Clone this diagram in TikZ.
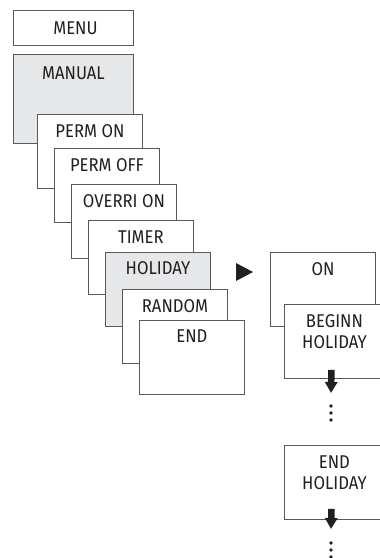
\documentclass[tikz,border=0pt]{standalone}
\usepackage{fontspec}
\setmainfont[FakeStretch=0.9]{Fira Sans}
\usetikzlibrary{arrows.meta}
\definecolor{boxline}{HTML}{58595B}
\definecolor{boxgray}{HTML}{E6E7E8}
\definecolor{ink}{HTML}{231F20}
\tikzset{font=\fontsize{18.5}{21}\selectfont}
\tikzstyle{menubox}=[rectangle,draw=boxline,line width=0.9pt,fill=white,inner sep=0pt,minimum width=105pt,minimum height=74pt,anchor=north west]
\tikzstyle{selbox}=[menubox,fill=boxgray]
\tikzstyle{txt}=[inner sep=0pt,text=ink,align=center]
\tikzstyle{dot}=[circle,fill=ink,inner sep=1.3pt]
\tikzstyle{down}=[-{Triangle[width=12pt,length=11pt]},line width=6.5pt,draw=ink]

\begin{document}
\begin{tikzpicture}[x=1pt,y=-1pt]
	\useasboundingbox (0,0) rectangle (380,558);
	\clip (0,0) rectangle (380,558);
	% menu column
	\node [style=menubox, minimum width=120pt, minimum height=35pt] (menu) at (13,10) {};
	\node [style=txt] (menut) at ([xshift=2pt]menu.center) {MENU};
	\node [style=selbox, minimum width=120pt, minimum height=89pt] (manual) at (13,54) {};
	\node [style=txt] (manualt) at ([yshift=-19pt]manual.north) {MANUAL};
	% cascade of sub menus
	\node [style=menubox] (permon) at (37,114) {};
	\node [style=txt] (permont) at ([yshift=-17pt]permon.north) {PERM ON};
	\node [style=menubox] (permoff) at (54,148) {};
	\node [style=txt] (permofft) at ([yshift=-17pt]permoff.north) {PERM OFF};
	\node [style=menubox] (overri) at (71,184) {};
	\node [style=txt] (overrit) at ([yshift=-17pt]overri.north) {OVERRI ON};
	\node [style=menubox] (timer) at (88,220) {};
	\node [style=txt] (timert) at ([yshift=-17pt]timer.north) {TIMER};
	\node [style=selbox] (holiday) at (105,252) {};
	\node [style=txt] (holidayt) at ([yshift=-16pt]holiday.north) {HOLIDAY};
	\node [style=menubox] (random) at (122,289) {};
	\node [style=txt] (randomt) at ([yshift=-17pt]random.north) {RANDOM};
	\node [style=menubox] (end) at (139,320) {};
	\node [style=txt] (endt) at ([yshift=-16pt]end.north) {END};
	% holiday sub menu
	\fill [ink] (236,263) -- (253,272) -- (236,281) -- cycle;
	\node [style=menubox] (on) at (270,252) {};
	\node [style=txt] (ont) at ([yshift=-17pt]on.north) {ON};
	\node [style=menubox, minimum width=100pt] (beginn) at (284,304) {};
	\node [style=txt] (beginnt) at ([yshift=-27.5pt]beginn.north) {BEGINN\\HOLIDAY};
	\coordinate (tip1) at (331,393);
	\draw [style=down] ([xshift=-3pt,yshift=9pt]beginn.south) -- (tip1);
	\foreach \y in {406,413,420}
		\node [style=dot] (dot\y) at (331,\y) {};
	\node [style=menubox, minimum width=100pt] (endhol) at (284,445) {};
	\node [style=txt] (endholt) at ([yshift=-27.5pt]endhol.north) {END\\HOLIDAY};
	\coordinate (tip2) at (331,529);
	\draw [style=down] ([xshift=-3pt,yshift=11pt]endhol.south) -- (tip2);
	\foreach \y in {543,550,557}
		\node [style=dot] (dot\y) at (331,\y) {};
\end{tikzpicture}
\end{document}
